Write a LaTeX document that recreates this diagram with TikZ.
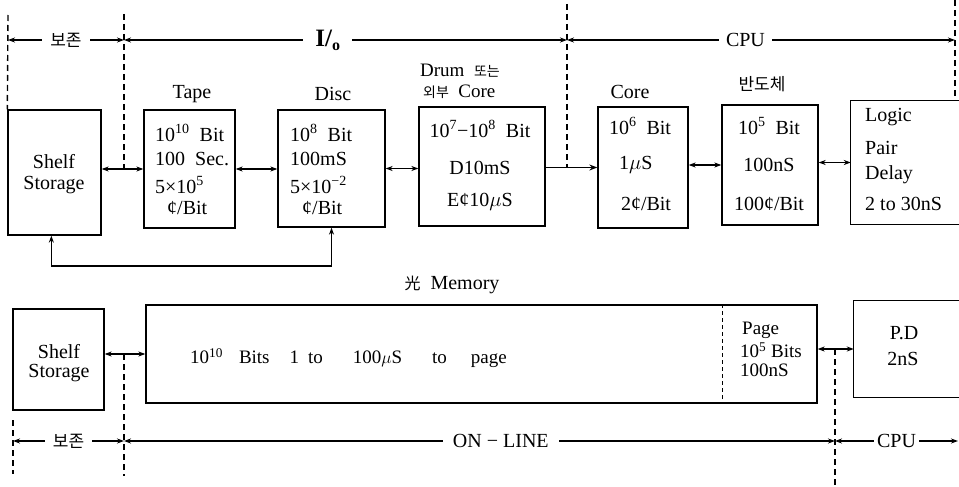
\documentclass[tikz,border=0pt]{standalone}
\usepackage{fontspec}
\setmainfont{Liberation Serif}
\newfontfamily\kr{Noto Sans CJK KR}
\usetikzlibrary{arrows.meta}
\begin{document}
\begin{tikzpicture}[x=1pt,y=-1pt,
  boxline/.style={line width=1.3pt},
  membox/.style={draw, line width=1.3pt, inner sep=0pt},
  txt/.style={inner sep=0pt, font=\fontsize{20}{23}\selectfont},
  smtxt/.style={inner sep=0pt, font=\fontsize{19}{22}\selectfont},
  krtxt/.style={inner sep=0pt, font={\kr\fontsize{17}{20}\selectfont}},
  conn/.style={line width=1.2pt, {Stealth[length=7pt,width=5pt]}-{Stealth[length=7pt,width=5pt]}},
  oneway/.style={line width=1.2pt, -{Stealth[length=8pt,width=6pt,open]}},
  dimline/.style={line width=1.2pt, {Stealth[length=7pt,width=5pt]}-{Stealth[length=7pt,width=5pt]}},
  dimlab/.style={fill=white, inner xsep=7pt, inner ysep=1pt},
  vdash/.style={line width=1.4pt, dash pattern=on 6pt off 4pt}
]
\useasboundingbox (0,0) rectangle (959,487);

% ---------- top row boxes ----------
\node[membox, minimum width=93, minimum height=125] (shelfA) at (54.5,172.5) {};
\node[membox, minimum width=91, minimum height=118] (tape) at (189.5,169) {};
\node[membox, minimum width=107, minimum height=117] (disc) at (331.5,168.5) {};
\node[membox, minimum width=126, minimum height=119] (drum) at (482,166.5) {};
\node[membox, minimum width=90, minimum height=121] (core) at (643,167.5) {};
\node[membox, minimum width=96, minimum height=120] (semi) at (770,165) {};
\node[inner sep=0pt, minimum width=111, minimum height=123] (logic) at (906.5,162.5) {};
\draw[boxline] (logic.north east) -- (logic.north west) -- (logic.south west) -- (logic.south east);

% texts in top boxes
\node[txt] (shA1) at (54,162) {Shelf};
\node[txt] (shA2) at (54,185) {Storage};

\node[txt, anchor=west] (tp1) at (155,133) {10\textsuperscript{10}\ \ Bit};
\node[txt, anchor=west] (tp2) at (155,159) {100\ \ Sec.};
\node[txt, anchor=west] (tp3) at (155,185) {5×10\textsuperscript{5}};
\node[txt, anchor=west] (tp4) at (167,208) {¢/Bit};

\node[txt, anchor=west] (ds1) at (290,133) {10\textsuperscript{8}\ \ Bit};
\node[txt, anchor=west] (ds2) at (290,159) {100mS};
\node[txt, anchor=west] (ds3) at (290,185) {5×10\textsuperscript{−2}};
\node[txt, anchor=west] (ds4) at (302,208) {¢/Bit};

\node[txt] (dr1) at (480,129) {10\textsuperscript{7}−10\textsuperscript{8}\ \ Bit};
\node[txt] (dr2) at (480,168) {D10mS};
\node[txt] (dr3) at (480,202) {E¢10$\mu$S};

\node[txt] (co1) at (640,126) {10\textsuperscript{6}\ \ Bit};
\node[txt, anchor=west] (co2) at (619,165) {1$\mu$S};
\node[txt] (co3) at (646,204) {2¢/Bit};

\node[txt] (se1) at (769,126) {10\textsuperscript{5}\ \ Bit};
\node[txt] (se2) at (769,165) {100nS};
\node[txt] (se3) at (769,204) {100¢/Bit};

\node[txt, anchor=west] (lg1) at (865,117) {Logic};
\node[txt, anchor=west] (lg2) at (865,148) {Pair};
\node[txt, anchor=west] (lg3) at (865,175) {Delay};
\node[txt, anchor=west] (lg4) at (865,204) {2 to 30nS};

% labels above
\node[txt] (lbtape) at (192,94) {Tape};
\node[txt] (lbdisc) at (333,94) {Disc};
\node[smtxt, anchor=west] (lbdrum1) at (420,71) {Drum\ \ {\kr\fontsize{14}{16}\selectfont 또는}};
\node[smtxt, anchor=west] (lbdrum2) at (423,92) {{\kr\fontsize{14}{16}\selectfont 외부}\ \ Core};
\node[txt] (lbcore) at (630,92) {Core};
\node[krtxt] (lbsemi) at (762,84) {반도체};

% top connectors
\draw[conn] (shelfA.east |- tape.west) -- (tape.west);
\draw[conn] (tape.east) -- (tape.east -| disc.west);
\draw[conn] (disc.east) -- (disc.east -| drum.west);
\draw[oneway] (core.west -| drum.east) -- (core.west);
\draw[conn] (core.east |- semi.west) -- (semi.west);
\draw[conn] (semi.east |- logic.west) -- (logic.west);
\coordinate (loopA) at ([xshift=44pt]shelfA.south west);
\draw[conn] (loopA) -- (loopA |- 0,266) -| (disc.south);

% top dimension line
\coordinate (t0) at (8,40);
\coordinate (t1) at (124,40);
\coordinate (t2) at (567,40);
\coordinate (t3) at (955,40);
\draw[dimline] (t0) -- node[dimlab, krtxt, fill=white, inner xsep=8pt] (bz1) {보존} (t1);
\draw[dimline] (t1) -- node[dimlab, pos=0.46, inner xsep=12pt] (io) {\fontsize{25}{26}\selectfont\bfseries I/\raisebox{-4pt}{\fontsize{16}{16}\selectfont o}} (t2);
\draw[dimline] (t2) -- node[dimlab, txt, pos=0.46, fill=white, inner xsep=7pt] (cpu1) {CPU} (t3);

% top dashed verticals
\draw[vdash] (8,15) -- (shelfA.north west);
\draw[vdash] (124,14) -- (124,0 |- tape.west);
\draw[vdash] (567,4) -- (567,0 |- core.west);
\draw[vdash] (955,0) -- (955,0 |- logic.north);

% ---------- bottom row ----------
\node[txt] (memlab) at (452,285) {{\kr\fontsize{16}{18}\selectfont 光}\ \ Memory};
\node[membox, minimum width=91, minimum height=101] (shelfB) at (58.5,359.5) {};
\node[membox, minimum width=671, minimum height=98] (mem) at (481.5,354) {};
\node[inner sep=0pt, minimum width=108, minimum height=96] (pd) at (908,349) {};
\draw[boxline] (pd.north east) -- (pd.north west) -- (pd.south west) -- (pd.south east);
\draw[line width=0.9pt, dash pattern=on 4pt off 3pt] (mem.north -| 722,0) -- (mem.south -| 722,0);

\node[txt] (shB1) at (59,352) {Shelf};
\node[txt] (shB2) at (59,373) {Storage};

\node[smtxt, anchor=west] (memtxt) at (190,358) {10\textsuperscript{10}\hspace{16pt}Bits\hspace{20pt}1\hspace{9pt}to\hspace{30pt}100$\mu$S\hspace{30pt}to\hspace{24pt}page};

\node[smtxt, anchor=west] (pg1) at (742,330) {Page};
\node[smtxt, anchor=west] (pg2) at (740,350) {10\textsuperscript{5} Bits};
\node[smtxt, anchor=west] (pg3) at (740,370) {100nS};

\node[txt] (pd1) at (904,333) {P.D};
\node[txt] (pd2) at (903,359) {2nS};

% bottom connectors
\draw[conn] (shelfB.east |- mem.west) -- (mem.west);
\draw[conn] (mem.east |- pd.west) -- (pd.west);

% bottom dimension line
\coordinate (b0) at (13,441);
\coordinate (b1) at (124,441);
\coordinate (b2) at (835,441);
\coordinate (b3) at (958,441);
\draw[dimline] (b0) -- node[dimlab, krtxt, fill=white, inner xsep=8pt] (bz2) {보존} (b1);
\draw[dimline] (b1) -- node[dimlab, txt, pos=0.53, fill=white, inner xsep=10pt] (online) {ON − LINE} (b2);
\draw[dimline] (b2) -- node[dimlab, txt, fill=white, inner xsep=3pt] (cpu2) {CPU} (b3);

% bottom dashed verticals
\draw[vdash] (13,420) -- (13,474);
\draw[vdash] (124,0 |- mem.west) -- (124,476);
\draw[vdash] (835,0 |- pd.west) -- (835,487);
\end{tikzpicture}
\end{document}
